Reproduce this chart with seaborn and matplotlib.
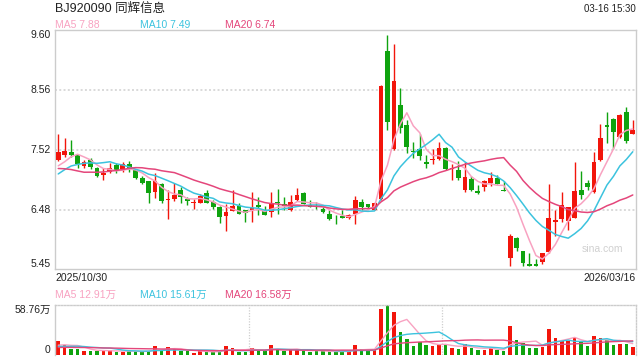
import numpy as np
import pandas as pd
import matplotlib
matplotlib.use("Agg")
import matplotlib.pyplot as plt
import seaborn as sns
from matplotlib.transforms import blended_transform_factory

# ---------------- data ----------------
title = "BJ920090 同辉信息"
timestamp = "03-16 15:30"
start_date = "2025/10/30"
end_date = "2026/03/16"
ma_names = ["MA5", "MA10", "MA20"]
ma_windows = [5, 10, 20]
price_ma_last = ["7.88", "7.49", "6.74"]
vol_ma_last = ["12.91万", "15.61万", "16.58万"]
price_tick_values = [9.60, 8.56, 7.52, 6.48, 5.45]
price_tick_labels = ["9.60", "8.56", "7.52", "6.48", "5.45"]
vol_tick_values = [58.76, 0]
vol_tick_labels = ["58.76万", "0"]
watermark = "sina.com"

# closes of the 19 sessions before the window (only feed the moving averages)
prior_closes = [7.60, 7.70, 7.75, 7.75, 7.20, 7.10, 7.00, 6.95, 6.90, 6.95,
                6.75, 6.80, 7.00, 7.10, 7.15, 7.145, 6.99, 7.06, 7.53]
prior_volumes = [8, 7, 9, 6, 7, 8, 10, 7, 6, 8, 9, 7, 6, 8, 12, 9, 10, 8, 14]

opens = [7.35, 7.43, 7.48, 7.43, 7.24, 7.34, 7.21, 7.08, 7.14, 7.25,
         7.18, 7.28, 7.17, 7.03, 6.98, 6.79, 6.92, 6.64, 6.66, 6.82,
         6.66, 6.60, 6.60, 6.77, 6.61, 6.53, 6.37, 6.46, 6.55, 6.47,
         6.47, 6.56, 6.46, 6.44, 6.62, 6.57, 6.47, 6.64, 6.77, 6.56,
         6.53, 6.50, 6.41, 6.32, 6.37, 6.34, 6.40, 6.61, 6.57, 6.48,
         6.67, 9.24, 7.53, 8.30, 7.95, 7.50, 7.54, 7.30, 7.34, 7.36,
         7.55, 7.18, 7.17, 6.82, 7.01, 6.80, 6.88, 6.94, 7.03, 6.83,
         5.64, 5.98, 5.76, 5.53, 5.53, 5.57, 5.74, 6.26, 6.31, 6.28,
         6.34, 6.83, 6.95, 6.79, 7.34, 7.95, 8.06, 7.75, 8.17, 7.79]
highs = [7.79, 7.72, 7.69, 7.44, 7.35, 7.37, 7.22, 7.21, 7.29, 7.29,
         7.30, 7.32, 7.17, 7.07, 6.98, 7.11, 6.95, 6.82, 6.94, 6.88,
         6.70, 6.67, 6.75, 6.82, 6.64, 6.54, 6.57, 6.82, 6.59, 6.48,
         6.79, 6.70, 6.54, 6.78, 6.84, 6.70, 6.73, 6.85, 6.78, 6.64,
         6.61, 6.53, 6.47, 6.38, 6.47, 6.41, 6.72, 6.67, 6.58, 6.61,
         8.65, 9.52, 9.36, 8.59, 8.04, 7.66, 7.79, 7.43, 7.54, 7.65,
         7.57, 7.28, 7.33, 7.31, 7.06, 6.90, 6.99, 7.13, 7.09, 6.98,
         6.06, 6.01, 5.77, 5.72, 5.63, 5.73, 6.92, 6.47, 6.79, 6.53,
         7.31, 7.15, 6.99, 7.49, 7.96, 8.18, 8.07, 8.15, 8.27, 8.04]
lows = [7.33, 7.39, 7.40, 7.20, 7.20, 7.18, 7.04, 7.00, 7.12, 7.12,
        7.14, 7.14, 7.01, 6.92, 6.60, 6.69, 6.60, 6.31, 6.63, 6.60,
        6.56, 6.50, 6.59, 6.59, 6.50, 6.25, 6.11, 6.45, 6.40, 6.26,
        6.26, 6.38, 6.38, 6.35, 6.40, 6.47, 6.46, 6.63, 6.57, 6.52,
        6.49, 6.43, 6.30, 6.24, 6.33, 6.31, 6.24, 6.47, 6.50, 6.47,
        6.64, 7.86, 7.51, 7.81, 7.46, 7.37, 7.34, 7.20, 7.28, 7.34,
        7.17, 7.00, 6.99, 6.79, 6.80, 6.76, 6.81, 6.89, 6.92, 6.81,
        5.50, 5.77, 5.51, 5.50, 5.50, 5.54, 5.72, 6.02, 6.27, 6.13,
        6.33, 6.67, 6.83, 6.77, 7.33, 7.63, 7.53, 7.72, 7.63, 7.79]
closes = [7.48, 7.50, 7.43, 7.27, 7.30, 7.22, 7.07, 7.11, 7.21, 7.17,
          7.27, 7.17, 7.03, 6.95, 6.77, 6.97, 6.63, 6.66, 6.73, 6.70,
          6.63, 6.61, 6.71, 6.60, 6.53, 6.35, 6.44, 6.54, 6.41, 6.43,
          6.51, 6.52, 6.38, 6.60, 6.60, 6.54, 6.62, 6.74, 6.57, 6.53,
          6.52, 6.44, 6.31, 6.31, 6.34, 6.38, 6.64, 6.52, 6.52, 6.60,
          8.62, 8.01, 8.72, 7.90, 7.56, 7.49, 7.41, 7.28, 7.36, 7.55,
          7.18, 7.20, 7.03, 7.04, 6.82, 6.77, 6.98, 7.03, 6.92, 6.81,
          6.03, 5.82, 5.55, 5.51, 5.51, 5.72, 6.33, 6.30, 6.56, 6.52,
          6.81, 6.73, 6.87, 7.31, 7.73, 7.92, 7.83, 8.12, 7.68, 7.86]
volumes = [16.5, 11.8, 6.7, 7.0, 4.7, 4.7, 4.7, 5.1, 5.9, 3.5,
           3.9, 4.3, 4.7, 3.9, 5.1, 10.6, 5.9, 9.4, 6.7, 4.7,
           4.3, 2.7, 5.1, 3.9, 3.1, 4.7, 10.6, 8.2, 3.9, 3.9,
           8.2, 5.5, 5.1, 11.8, 6.3, 4.3, 6.3, 6.7, 4.7, 3.9,
           4.3, 4.7, 4.3, 3.5, 3.9, 4.3, 11.8, 7.0, 5.5, 5.5,
           54.0, 58.76, 50.5, 27.0, 18.8, 11.0, 14.9, 11.8, 11.0, 12.5,
           12.5, 8.2, 7.0, 12.5, 8.2, 5.9, 5.9, 8.2, 5.9, 5.1,
           34.0, 17.6, 13.7, 8.2, 8.2, 9.8, 30.5, 20.4, 16.5, 16.5,
           19.6, 16.5, 11.0, 22.7, 20.4, 18.0, 12.1, 13.3, 13.3, 9.8]

# ---------------- style ----------------
sns.set_theme(style="white")
plt.rcParams["font.family"] = ["Liberation Sans", "Noto Sans CJK SC", "DejaVu Sans"]

RED = "#f2150b"
GREEN = "#0fa30f"
MA_COLORS = ["#f8a2c1", "#3cc3de", "#e4467b"]
TXT = "#222222"
GRID = "#d9d9d9"
BORDER = "#cccccc"

n = len(closes)
df = pd.DataFrame({"i": np.arange(n), "open": opens, "high": highs,
                   "low": lows, "close": closes, "vol": volumes})
df["up"] = df["close"] >= df["open"]
colors = np.where(df["up"], RED, GREEN)

all_close = pd.Series(prior_closes + closes)
all_vol = pd.Series(prior_volumes + volumes)
k = len(prior_closes)
ma_rows, vma_rows = [], []
for name, w in zip(ma_names, ma_windows):
    m = all_close.rolling(w, min_periods=1).mean().iloc[k:].values
    vm = all_vol.rolling(w, min_periods=1).mean().iloc[k:].values
    ma_rows.append(pd.DataFrame({"i": np.arange(n), "v": m, "ma": name}))
    vma_rows.append(pd.DataFrame({"i": np.arange(n), "v": vm, "ma": name}))
ma_df = pd.concat(ma_rows, ignore_index=True)
vma_df = pd.concat(vma_rows, ignore_index=True)
palette = dict(zip(ma_names, MA_COLORS))

W, H = 640, 360
fig = plt.figure(figsize=(6.4, 3.6), dpi=100)
fig.patch.set_facecolor("white")


def rect(x0, y0, x1, y1):
    return [x0 / W, 1 - y1 / H, (x1 - x0) / W, (y1 - y0) / H]


ax = fig.add_axes(rect(55, 30, 636, 269))
axv = fig.add_axes(rect(55, 305, 636, 355))

# ---------------- candles ----------------
body_lo = np.minimum(df["open"], df["close"])
body_h = np.maximum(np.abs(df["close"] - df["open"]), 0.014)
ax.vlines(df["i"], df["low"], df["high"], colors=colors, linewidth=1.0, zorder=2)
ax.bar(df["i"], body_h, bottom=body_lo, width=0.74, color=colors,
       linewidth=0, zorder=3)
sns.lineplot(data=ma_df, x="i", y="v", hue="ma", palette=palette,
             hue_order=ma_names, ax=ax, legend=False, linewidth=1.1,
             zorder=4, estimator=None)

ax.set_xlim(-0.5, n - 0.5)
ax.set_ylim(min(price_tick_values), max(price_tick_values))
for v in price_tick_values[1:-1]:
    ax.axhline(v, color=GRID, linewidth=1.4, linestyle=(0, (1.0, 1.2)), zorder=1)
ax.set_xticks([])
ax.set_yticks([])
ax.set_xlabel("")
ax.set_ylabel("")
for s in ax.spines.values():
    s.set_visible(True)
    s.set_color(BORDER)
    s.set_linewidth(1.0)

tr = blended_transform_factory(ax.transAxes, ax.transData)
top_v, bot_v = max(price_tick_values), min(price_tick_values)
for v, lab in zip(price_tick_values, price_tick_labels):
    va = "top" if v == top_v else ("bottom" if v == bot_v else "center")
    ax.text(-0.0075, v, lab, transform=tr, ha="right", va=va,
            fontsize=7.5, color=TXT)

ax.text(0.978, 0.084, watermark, transform=ax.transAxes, ha="right",
        va="center", fontsize=7.5, color="#d0d0d0")

# ---------------- volume ----------------
axv.bar(df["i"], df["vol"], width=0.55, color=colors, linewidth=0, zorder=2)
sns.lineplot(data=vma_df, x="i", y="v", hue="ma", palette=palette,
             hue_order=ma_names, ax=axv, legend=False, linewidth=1.0,
             zorder=3, estimator=None)
axv.set_xlim(-0.5, n - 0.5)
axv.set_ylim(0, max(vol_tick_values))
axv.set_xticks([])
axv.set_yticks([])
axv.set_xlabel("")
axv.set_ylabel("")
for xv in [(n / 3) - 0.5, (2 * n / 3) - 0.5]:
    axv.axvline(xv, color="#cfcfcf", linewidth=0.9, linestyle=(0, (1.0, 1.2)), zorder=1)
for name, s in axv.spines.items():
    s.set_visible(True)
    s.set_color(BORDER)
    s.set_linewidth(1.0)
axv.spines["top"].set_linestyle((0, (1.0, 1.2)))
axv.spines["right"].set_linestyle((0, (1.0, 1.2)))
axv.spines["bottom"].set_visible(False)

trv = blended_transform_factory(axv.transAxes, axv.transData)
for v, lab in zip(vol_tick_values, vol_tick_labels):
    va = "top" if v == max(vol_tick_values) else "bottom"
    axv.text(-0.0075, v, lab, transform=trv, ha="right", va=va,
             fontsize=7.5, color=TXT)

# ---------------- header texts ----------------
fig.text(55 / W, 1 - 9 / H, title, ha="left", va="center", fontsize=9, color=TXT)
fig.text(636 / W, 1 - 9 / H, timestamp, ha="right", va="center", fontsize=7, color=TXT)
legend_x = [55, 140, 225]
for x0, name, val, c in zip(legend_x, ma_names, price_ma_last, MA_COLORS):
    fig.text(x0 / W, 1 - 24.5 / H, f"{name} {val}", ha="left", va="center",
             fontsize=7.5, color=c)
for x0, name, val, c in zip(legend_x, ma_names, vol_ma_last, MA_COLORS):
    fig.text(x0 / W, 1 - 295 / H, f"{name} {val}", ha="left", va="center",
             fontsize=7.5, color=c)
fig.text(55 / W, 1 - 278 / H, start_date, ha="left", va="center", fontsize=7.5, color=TXT)
fig.text(636 / W, 1 - 278 / H, end_date, ha="right", va="center", fontsize=7.5, color=TXT)

fig.savefig("out.png", dpi=100, facecolor="white")
